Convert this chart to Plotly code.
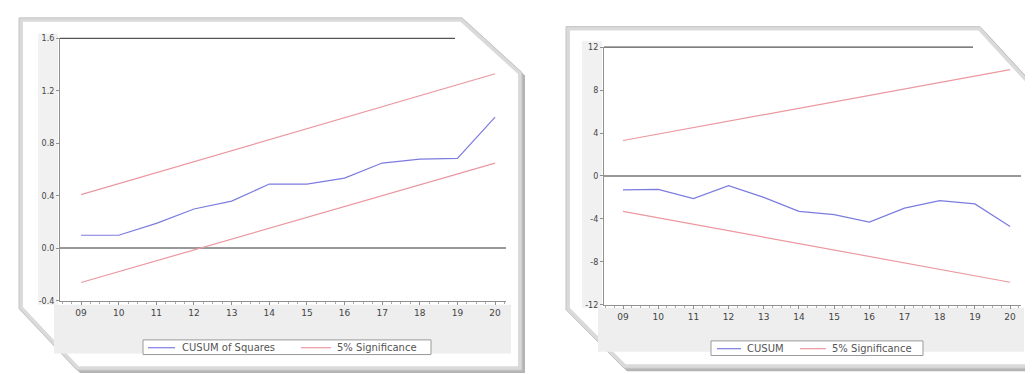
import plotly.graph_objects as go

W, H = 1033, 374

# ---- data ----
years = [2009, 2010, 2011, 2012, 2013, 2014, 2015, 2016, 2017, 2018, 2019, 2020]
year_labels = ["09", "10", "11", "12", "13", "14", "15", "16", "17", "18", "19", "20"]

cusumsq = [0.10, 0.10, 0.19, 0.30, 0.36, 0.49, 0.49, 0.535, 0.65, 0.68, 0.685, 1.00]
cusumsq_upper = [0.41, 0.494, 0.578, 0.661, 0.745, 0.829, 0.913, 0.997, 1.080, 1.164, 1.248, 1.33]
cusumsq_lower = [-0.26, -0.177, -0.095, -0.012, 0.071, 0.153, 0.236, 0.319, 0.402, 0.484, 0.567, 0.65]

cusum = [-1.3, -1.25, -2.1, -0.9, -2.0, -3.3, -3.6, -4.3, -3.0, -2.3, -2.6, -4.7]
cusum_upper = [3.3, 3.9, 4.5, 5.1, 5.7, 6.3, 6.9, 7.5, 8.1, 8.7, 9.3, 9.9]
cusum_lower = [-3.3, -3.9, -4.5, -5.1, -5.7, -6.3, -6.9, -7.5, -8.1, -8.7, -9.3, -9.9]

left_yticks = [-0.4, 0.0, 0.4, 0.8, 1.2, 1.6]
left_yticklabels = ["-0.4", "0.0", "0.4", "0.8", "1.2", "1.6"]
right_yticks = [-12, -8, -4, 0, 4, 8, 12]
right_yticklabels = ["-12", "-8", "-4", "0", "4", "8", "12"]

BLUE = "#7c7ce0"
RED = "#eb98a0"
AXC = "#909090"
TXT = "#555555"


def px(x):
    return x / W


def py(y):
    return 1 - y / H


def poly(points):
    s = "M " + " L ".join(f"{px(x):.5f},{py(y):.5f}" for x, y in points) + " Z"
    return s


fig = go.Figure()

# left chart
fig.add_trace(go.Scatter(x=years, y=cusumsq, mode="lines", line=dict(color=BLUE, width=1.2),
                         xaxis="x", yaxis="y", showlegend=False))
fig.add_trace(go.Scatter(x=years, y=cusumsq_upper, mode="lines", line=dict(color=RED, width=1.2),
                         xaxis="x", yaxis="y", showlegend=False))
fig.add_trace(go.Scatter(x=years, y=cusumsq_lower, mode="lines", line=dict(color=RED, width=1.2),
                         xaxis="x", yaxis="y", showlegend=False))
# right chart
fig.add_trace(go.Scatter(x=years, y=cusum, mode="lines", line=dict(color=BLUE, width=1.2),
                         xaxis="x2", yaxis="y2", showlegend=False))
fig.add_trace(go.Scatter(x=years, y=cusum_upper, mode="lines", line=dict(color=RED, width=1.2),
                         xaxis="x2", yaxis="y2", showlegend=False))
fig.add_trace(go.Scatter(x=years, y=cusum_lower, mode="lines", line=dict(color=RED, width=1.2),
                         xaxis="x2", yaxis="y2", showlegend=False))

shapes = []


def panel(x0, y0, x1, y1, cut_tr, cut_bl):
    outer = [(x0, y0), (x1 - cut_tr[0], y0), (x1, y0 + cut_tr[1]), (x1, y1),
             (x0 + cut_bl[0], y1), (x0, y1 - cut_bl[1])]
    shadow = [(x + 3, y + 3) for x, y in outer]
    shapes.append(dict(type="path", path=poly(shadow), xref="paper", yref="paper",
                       fillcolor="#b4b4b4", line=dict(width=0), layer="below"))
    shapes.append(dict(type="path", path=poly(outer), xref="paper", yref="paper",
                       fillcolor="#dadada", line=dict(color="#c4c4c4", width=1), layer="below"))
    d = 4
    inner = [(x0 + d, y0 + d), (x1 - cut_tr[0] - d * 0.4, y0 + d), (x1 - d, y0 + cut_tr[1] + d * 0.4),
             (x1 - d, y1 - d), (x0 + cut_bl[0] + d * 0.4, y1 - d), (x0 + d, y1 - cut_bl[1] - d * 0.4)]
    shapes.append(dict(type="path", path=poly(inner), xref="paper", yref="paper",
                       fillcolor="#ffffff", line=dict(width=0), layer="below"))


def rect(x0, y0, x1, y1, color):
    shapes.append(dict(type="rect", x0=px(x0), x1=px(x1), y0=py(y1), y1=py(y0),
                       xref="paper", yref="paper", fillcolor=color, line=dict(width=0), layer="below"))


def hline(x0, x1, y, color, width=1, layer="above"):
    shapes.append(dict(type="line", x0=px(x0), x1=px(x1), y0=py(y), y1=py(y),
                       xref="paper", yref="paper", line=dict(color=color, width=width), layer=layer))


# panels
panel(11, 6, 514, 367, (60, 56), (58, 63))
panel(558, 15, 1026, 365, (54, 60), (58, 60))

# light gray frame areas
rect(30, 22, 50, 300, "#f1f1f1")
rect(46, 300, 503, 350, "#eeeeee")
rect(574, 30, 594, 303, "#f1f1f1")
rect(590, 303, 1016, 348, "#eeeeee")

# top frame lines
hline(52, 447, 27, "#555555", 1.2)
hline(596, 965, 36, "#555555", 1.2)

# legend boxes
rect(135, 336, 423, 351, "#ffffff")
shapes.append(dict(type="rect", x0=px(135), x1=px(423), y0=py(351), y1=py(336), xref="paper", yref="paper",
                   line=dict(color="#9a9a9a", width=1), layer="above"))
hline(140, 167, 344, BLUE, 1.2)
hline(293, 323, 344, RED, 1.2)

rect(703, 337, 915, 352, "#ffffff")
shapes.append(dict(type="rect", x0=px(703), x1=px(915), y0=py(352), y1=py(337), xref="paper", yref="paper",
                   line=dict(color="#9a9a9a", width=1), layer="above"))
hline(709, 733, 345, BLUE, 1.2)
hline(792, 818, 345, RED, 1.2)

annotations = [
    dict(text="CUSUM of Squares", x=px(172), y=py(344), xref="paper", yref="paper", xanchor="left",
         yanchor="middle", showarrow=False, font=dict(family="DejaVu Sans", size=10, color=TXT)),
    dict(text="5% Significance", x=px(327), y=py(344), xref="paper", yref="paper", xanchor="left",
         yanchor="middle", showarrow=False, font=dict(family="DejaVu Sans", size=10, color=TXT)),
    dict(text="CUSUM", x=px(737), y=py(345), xref="paper", yref="paper", xanchor="left",
         yanchor="middle", showarrow=False, font=dict(family="DejaVu Sans", size=10, color=TXT)),
    dict(text="5% Significance", x=px(822), y=py(345), xref="paper", yref="paper", xanchor="left",
         yanchor="middle", showarrow=False, font=dict(family="DejaVu Sans", size=10, color=TXT)),
]

tickfont = dict(family="DejaVu Sans", size=9, color="#444444")

common_x = dict(showgrid=False, showline=True, linecolor=AXC, linewidth=1.2, ticks="outside", ticklen=3,
                tickcolor=AXC, tickvals=years, ticktext=year_labels, tickfont=tickfont, zeroline=False,
                minor=dict(ticks="outside", ticklen=2, tickcolor="#aaaaaa", dtick=0.25), fixedrange=True)
common_y = dict(showgrid=False, showline=True, linecolor=AXC, linewidth=1.2, ticks="outside", ticklen=3,
                tickcolor=AXC, tickfont=dict(family="DejaVu Sans", size=8, color="#444444"),
                zeroline=True, zerolinecolor="#999999", zerolinewidth=1.8, fixedrange=True)

fig.update_layout(
    width=W, height=H,
    margin=dict(l=0, r=0, t=0, b=0),
    paper_bgcolor="#ffffff",
    plot_bgcolor="rgba(0,0,0,0)",
    showlegend=False,
    xaxis=dict(domain=[px(52), px(498)], range=[2008.44, 2020.29], anchor="y", **common_x),
    yaxis=dict(domain=[py(296), py(27)], range=[-0.4, 1.6], anchor="x",
               tickvals=left_yticks, ticktext=left_yticklabels, **common_y),
    xaxis2=dict(domain=[px(596), px(1013)], range=[2008.46, 2020.31], anchor="y2", **common_x),
    yaxis2=dict(domain=[py(300), py(36)], range=[-12, 12], anchor="x2",
                tickvals=right_yticks, ticktext=right_yticklabels, **common_y),
    shapes=shapes,
    annotations=annotations,
)

fig.write_html("out.html")
